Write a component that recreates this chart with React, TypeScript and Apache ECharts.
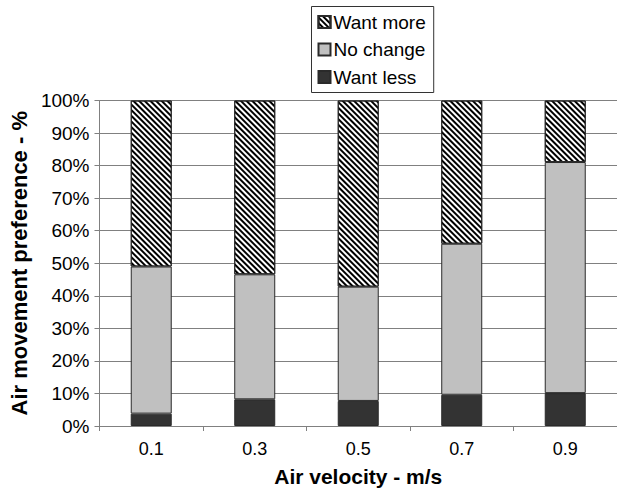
import React, { useEffect, useRef } from "react";
import * as echarts from "echarts";

const categories = ["0.1", "0.3", "0.5", "0.7", "0.9"];
const wantLess = [3.8, 8.2, 7.7, 9.6, 10.1];
const noChange = [45.2, 38.4, 35.1, 46.4, 71.0];
const wantMore = [51.0, 53.4, 57.2, 44.0, 18.9];
const yTicks = { min: 0, max: 100, interval: 10 };

const FONT = "'Liberation Sans', Arial, sans-serif";

export default function App() {
  const ref = useRef<HTMLDivElement>(null);
  useEffect(() => {
    document.body.style.margin = "0";
    const chart = echarts.init(ref.current!, null, { renderer: "svg" });
    const border = { borderColor: "#2a2a2a", borderWidth: 1 };
    chart.setOption({
      animation: false,
      backgroundColor: "#ffffff",
      textStyle: { fontFamily: FONT },
      grid: { left: 98.5, top: 100.5, width: 521, height: 326.3, containLabel: false },
      legend: {
        orient: "vertical",
        left: 311.5,
        top: 6.5,
        data: ["Want more", "No change", "Want less"],
        itemWidth: 12,
        itemHeight: 12,
        itemGap: 8.5,
        padding: [6, 8, 6, 6],
        borderColor: "#333",
        borderWidth: 1,
        icon: "rect",
        textStyle: { fontSize: 19, color: "#000", fontFamily: FONT, padding: [0, 0, 0, -2] },
      },
      xAxis: {
        type: "category",
        data: categories,
        name: "Air velocity - m/s",
        nameLocation: "middle",
        nameGap: 40,
        nameTextStyle: { fontSize: 21, fontWeight: "bold", color: "#000", fontFamily: FONT },
        axisLine: { lineStyle: { color: "#808080", width: 1 } },
        axisTick: { show: true, length: 5, lineStyle: { color: "#808080" } },
        axisLabel: { fontSize: 18, color: "#000", margin: 14, fontFamily: FONT },
      },
      yAxis: {
        type: "value",
        min: yTicks.min,
        max: yTicks.max,
        interval: yTicks.interval,
        name: "Air movement preference - %",
        nameLocation: "middle",
        nameGap: 65,
        nameTextStyle: { fontSize: 22, fontWeight: "bold", color: "#000", fontFamily: FONT },
        axisLine: { show: true, lineStyle: { color: "#808080", width: 1 } },
        axisTick: { show: true, length: 5, lineStyle: { color: "#808080" } },
        axisLabel: { fontSize: 19, color: "#000", margin: 10, formatter: "{value}%", fontFamily: FONT },
        splitLine: { show: true, lineStyle: { color: "#808080", width: 1 } },
      },
      series: [
        {
          name: "Want less",
          type: "bar",
          stack: "total",
          barWidth: 41,
          data: wantLess,
          itemStyle: { color: "#333333", ...border },
        },
        {
          name: "No change",
          type: "bar",
          stack: "total",
          barWidth: 41,
          data: noChange,
          itemStyle: { color: "#c0c0c0", ...border },
        },
        {
          name: "Want more",
          type: "bar",
          stack: "total",
          barWidth: 41,
          data: wantMore,
          itemStyle: {
            color: "#ffffff",
            ...border,
            decal: {
              symbol: "rect",
              color: "#000000",
              dashArrayX: [1, 0],
              dashArrayY: [1.3, 1.3],
              rotation: Math.PI / 4,
              symbolSize: 1,
            },
          },
        },
      ],
    });
    return () => chart.dispose();
  }, []);
  return <div ref={ref} style={{ width: 617, height: 492 }} />;
}
